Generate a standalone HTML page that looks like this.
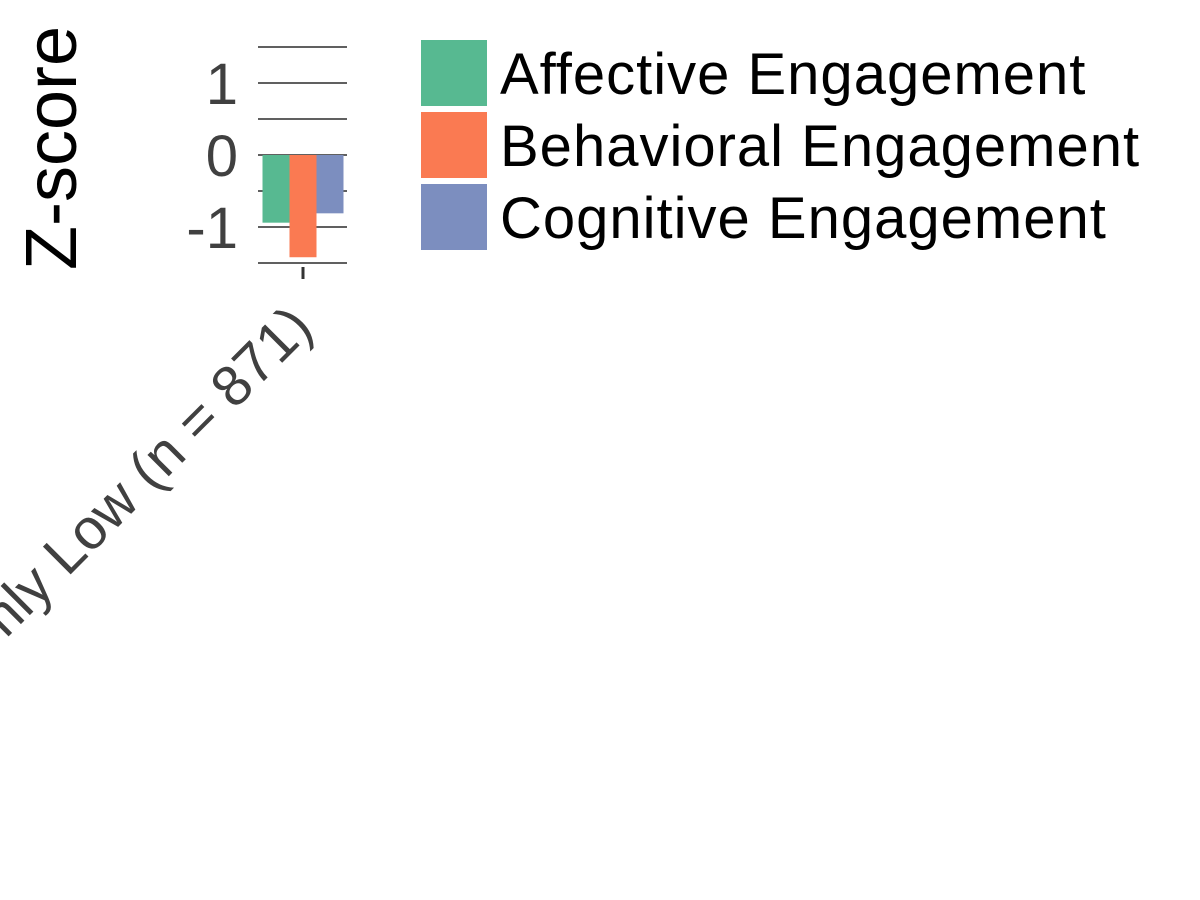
<!DOCTYPE html>
<html><head><meta charset="utf-8"><style>
html,body{margin:0;padding:0;background:#fff}
svg{display:block;font-family:"Liberation Sans",sans-serif}
</style></head><body>
<svg id="chart" width="1200" height="900" xmlns="http://www.w3.org/2000/svg">
<g id="grid"></g>
<g id="bars"></g>
<g id="yticks"></g>
<g id="xaxis"></g>
<text transform="translate(76,148) rotate(-90)" text-anchor="middle" font-size="72" fill="#000">Z-score</text>
<g id="legend"></g>
</svg>
<script>
const categories = ["Uniformly Low (n = 871)"];
const seriesNames = ["Affective Engagement","Behavioral Engagement","Cognitive Engagement"];
const affective = [-0.94];
const behavioral = [-1.42];
const cognitive = [-0.81];
const tickValues = [-1, 0, 1];
const gridValues = [-1.5,-1,-0.5,0,0.5,1,1.5];
const colors = ["#57b991","#fa7a52","#7c8ebf"];
const NS="http://www.w3.org/2000/svg";
const y = v => 155 - v*72;
const x0 = 258, x1 = 347;
function mk(tag, attrs, parent){const e=document.createElementNS(NS,tag);for(const k in attrs)e.setAttribute(k,attrs[k]);parent.appendChild(e);return e;}
const grid=document.getElementById('grid');
gridValues.forEach(v=>{const l=mk('line',{x1:x0,x2:x1,y1:y(v),y2:y(v),stroke:'#000','stroke-width':1.3},grid);

});
const yt=document.getElementById('yticks');
tickValues.forEach(v=>{const t=mk('text',{x:238,y:y(v)+21,'text-anchor':'end','font-size':58,fill:'#404040'},yt);t.textContent=v;

});
const bars=document.getElementById('bars');
const series=[affective,behavioral,cognitive];
const bw=27;
categories.forEach((c,i)=>{
  const cx=303;
  series.forEach((s,j)=>{
    const bx=cx-1.5*bw+j*bw;
    const v=s[i];
    const r=mk('rect',{x:bx,y:Math.min(y(0),y(v)),width:bw,height:Math.abs(y(v)-y(0)),fill:colors[j]},bars);
    
    
  });
  const xa=document.getElementById('xaxis');
  const tk=mk('line',{x1:cx,x2:cx,y1:267,y2:279,stroke:'#333','stroke-width':3},xa);
  
  
  const t=mk('text',{transform:`translate(${cx+12},${330}) rotate(-45)`,'text-anchor':'end','font-size':57,fill:'#404040'},xa);
  t.textContent=c;
  
  
});
const lg=document.getElementById('legend');
seriesNames.forEach((n,j)=>{
  const sy=40+j*72;
  const r=mk('rect',{x:421,y:sy,width:66,height:66,fill:colors[j]},lg);
  
  
  const t=mk('text',{x:500,y:sy+54,'font-size':58,'letter-spacing':1,fill:'#000'},lg);
  t.textContent=n;
  
  
});
</script>
</body></html>
